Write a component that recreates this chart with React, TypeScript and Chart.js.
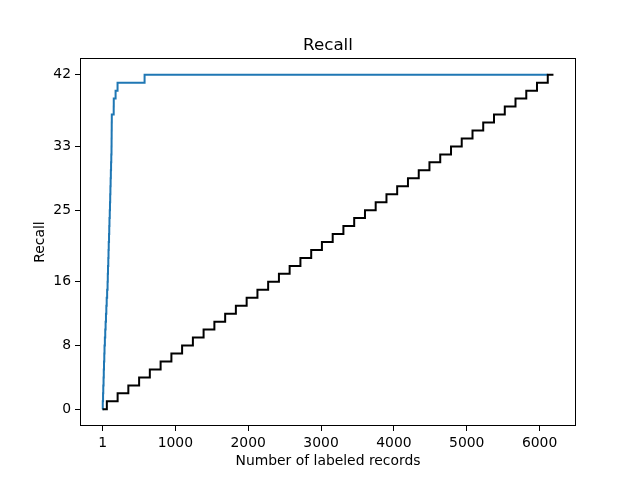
import { useEffect, useRef } from 'react';
import { Chart, registerables, Plugin } from 'chart.js';

Chart.register(...registerables);

// records screened at which each relevant record was found (model run)
const modelRecords = [
  1, 4, 8, 11, 15, 18, 21, 25, 28, 33, 38, 43, 48, 53, 58, 64, 70, 73, 76, 80, 83, 86,
  90, 93, 96, 100, 103, 106, 109, 112, 115, 118, 121, 124, 125, 126, 127, 128, 154, 155,
  180, 207, 578, 6112,
];
const modelRecall = [
  0, 1, 2, 3, 4, 5, 6, 7, 8, 9, 10, 11, 12, 13, 14, 15, 16, 17, 18, 19, 20, 21, 22, 23,
  24, 25, 26, 27, 28, 29, 30, 31, 32, 33, 34, 35, 36, 37, 38, 39, 40, 41, 42, 42,
];

// random screening baseline
const randomRecords = [
  1, 60, 208, 355, 503, 650, 798, 946, 1093, 1241, 1388, 1536, 1684, 1831, 1979, 2127,
  2274, 2422, 2569, 2717, 2865, 3012, 3160, 3307, 3455, 3603, 3750, 3898, 4045, 4193,
  4341, 4488, 4636, 4784, 4931, 5079, 5226, 5374, 5522, 5669, 5817, 5964, 6112, 6190,
];
const randomRecall = [
  0, 1, 2, 3, 4, 5, 6, 7, 8, 9, 10, 11, 12, 13, 14, 15, 16, 17, 18, 19, 20, 21, 22, 23,
  24, 25, 26, 27, 28, 29, 30, 31, 32, 33, 34, 35, 36, 37, 38, 39, 40, 41, 42, 42,
];

const xTicks = [1, 1000, 2000, 3000, 4000, 5000, 6000];
const yTicks = [0, 8, 16, 25, 33, 42];

const FONT = 'DejaVu Sans';

// matplotlib style frame + title centred over the axes
const framePlugin: Plugin<'line'> = {
  id: 'frame',
  afterDraw(chart) {
    const { ctx, chartArea: a } = chart;
    ctx.save();
    ctx.strokeStyle = '#000';
    ctx.lineWidth = 1;
    ctx.strokeRect(a.left + 0.5, a.top + 0.5, a.right - a.left - 1, a.bottom - a.top - 1);
    ctx.fillStyle = '#000';
    ctx.font = `16.7px "${FONT}"`;
    ctx.textAlign = 'center';
    ctx.textBaseline = 'alphabetic';
    ctx.fillText('Recall', (a.left + a.right) / 2, a.top - 8);
    ctx.restore();
  },
};

export default function App() {
  const canvasRef = useRef<HTMLCanvasElement | null>(null);
  const chartRef = useRef<Chart | null>(null);

  useEffect(() => {
    document.body.style.margin = '0';
    const ctx = canvasRef.current?.getContext('2d');
    if (!ctx) return;
    if (chartRef.current) chartRef.current.destroy();

    const tickFont = { family: FONT, size: 13.9 };

    chartRef.current = new Chart(ctx, {
      type: 'line',
      data: {
        datasets: [
          {
            label: 'random',
            data: randomRecords.map((x, i) => ({ x, y: randomRecall[i] })),
            borderColor: '#000000',
            borderWidth: 2,
            stepped: 'before',
            pointRadius: 0,
            fill: false,
          },
          {
            label: 'model',
            data: modelRecords.map((x, i) => ({ x, y: modelRecall[i] })),
            borderColor: '#1f77b4',
            borderWidth: 2,
            stepped: 'before',
            pointRadius: 0,
            fill: false,
          },
        ],
      },
      options: {
        responsive: false,
        animation: false,
        layout: { padding: { left: 0, right: 64, top: 58, bottom: 0 } },
        plugins: {
          legend: { display: false },
          title: { display: false },
          tooltip: { enabled: false },
        },
        scales: {
          x: {
            type: 'linear',
            min: -308.45,
            max: 6499.45,
            afterBuildTicks: (scale) => {
              scale.ticks = xTicks.map((value) => ({ value }));
            },
            afterFit: (scale) => {
              scale.height = 54;
            },
            grid: {
              display: true,
              drawOnChartArea: false,
              drawTicks: true,
              tickLength: 5,
              color: '#000',
            },
            border: { display: false },
            ticks: {
              font: tickFont,
              color: '#000',
              padding: 4,
              maxRotation: 0,
              autoSkip: false,
              callback: (v) => String(v),
            },
            title: {
              display: true,
              text: 'Number of labeled records',
              font: tickFont,
              color: '#000',
              padding: { top: 0, bottom: 10 },
            },
          },
          y: {
            type: 'linear',
            min: -2.1,
            max: 44.1,
            afterBuildTicks: (scale) => {
              scale.ticks = yTicks.map((value) => ({ value }));
            },
            afterFit: (scale) => {
              scale.width = 80;
            },
            grid: {
              display: true,
              drawOnChartArea: false,
              drawTicks: true,
              tickLength: 5,
              color: '#000',
            },
            border: { display: false },
            ticks: {
              font: tickFont,
              color: '#000',
              padding: 4,
              autoSkip: false,
              callback: (v) => String(v),
            },
            title: {
              display: true,
              text: 'Recall',
              font: tickFont,
              color: '#000',
              padding: { top: 31.7, bottom: 0 },
            },
          },
        },
      },
      plugins: [framePlugin],
    });

    return () => {
      if (chartRef.current) chartRef.current.destroy();
      chartRef.current = null;
    };
  }, []);

  return (
    <div style={{ width: 640, height: 480, background: '#fff' }}>
      <canvas ref={canvasRef} width={640} height={480} />
    </div>
  );
}
